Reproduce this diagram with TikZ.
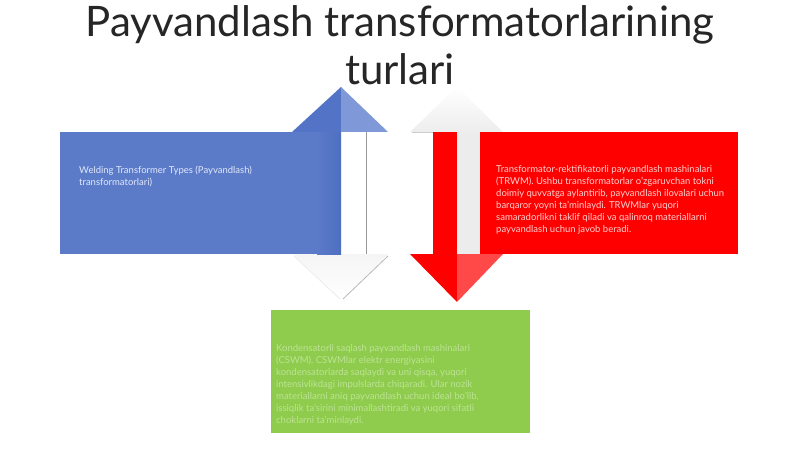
\documentclass[tikz,border=0pt]{standalone}
\usepackage{fontspec}
\setmainfont{Lato}
\begin{document}
\begin{tikzpicture}[x=1pt,y=-1pt,
  boxshape/.style={draw=none,inner sep=0pt,anchor=north west},
  bodytext/.style={inner sep=0pt,anchor=north west,align=left,font=\fontsize{9.5}{12}\selectfont},
  titletext/.style={inner sep=0pt,anchor=north,align=center,text=black!85,font=\fontsize{42}{48}\selectfont}]
\definecolor{bluebox}{RGB}{91,123,201}
\definecolor{bluedark}{RGB}{78,110,192}
\definecolor{bluehead}{RGB}{82,115,198}
\definecolor{bluelight}{RGB}{126,152,216}
\definecolor{redbox}{RGB}{255,0,0}
\definecolor{redlight}{RGB}{255,72,72}
\definecolor{greenbox}{RGB}{143,204,78}
\definecolor{greentext}{RGB}{188,227,148}
\definecolor{bluetext}{RGB}{225,232,250}
\definecolor{redtext}{RGB}{255,208,208}
\definecolor{paleshaft}{RGB}{236,236,236}
\useasboundingbox (0,0) rectangle (800,449);
\fill[white] (0,0) rectangle (800,449);

% title
\node[titletext] (title) at (400,5.5) {Payvandlash transformatorlarining\\turlari};

% faint arrowheads (shadows)
\shade[top color=white,bottom color=black!7] (410,132) -- (457,87) -- (503,132) -- cycle;
\shade[top color=black!4,bottom color=white] (293,254) -- (342,300) -- (388,254) -- cycle;
\draw[black!28,line width=0.8pt] (388,256) -- (343,299);
\draw[black!8,line width=0.8pt] (294,256) -- (340,299);
\draw[black!20,line width=0.6pt] (412,132) -- (433,132);

% blue part
\node[boxshape,fill=bluebox,minimum width=257pt,minimum height=122pt] (bluebox) at (60,132) {};
\shade[left color=bluebox,right color=bluedark] (317,132) rectangle (341,254);
\fill[bluehead] (292,132) -- (341,87) -- (341,132) -- cycle;
\fill[bluelight] (341,87) -- (388,132) -- (341,132) -- cycle;
\draw[black!40,line width=0.8pt] (366,132) -- (366,254);

% red part
\fill[redbox] (433,132) rectangle (457,254);
\fill[paleshaft] (457,132) rectangle (480,254);
\node[boxshape,fill=redbox,minimum width=258pt,minimum height=122pt] (redbox) at (480,132) {};
\fill[redbox] (410,254) -- (457,302) -- (457,254) -- cycle;
\fill[redlight] (457,254) -- (503,254) -- (457,302) -- cycle;

% green box
\node[boxshape,fill=greenbox,minimum width=259pt,minimum height=123pt] (greenbox) at (271,310) {};

% texts
\node[bodytext,text=bluetext] (bluetxt) at (79,165.5) {Welding Transformer Types (Payvandlash)\\transformatorlari)};
\node[bodytext,text=redtext] (redtxt) at (496,165.5) {Transformator-rektifikatorli payvandlash mashinalari\\(TRWM). Ushbu transformatorlar o'zgaruvchan tokni\\doimiy quvvatga aylantirib, payvandlash ilovalari uchun\\barqaror yoyni ta'minlaydi. TRWMlar yuqori\\samaradorlikni taklif qiladi va qalinroq materiallarni\\payvandlash uchun javob beradi.};
\node[bodytext,text=greentext] (greentxt) at (276,344.5) {Kondensatorli saqlash payvandlash mashinalari\\(CSWM). CSWMlar elektr energiyasini\\kondensatorlarda saqlaydi va uni qisqa, yuqori\\intensivlikdagi impulslarda chiqaradi. Ular nozik\\materiallarni aniq payvandlash uchun ideal bo'lib,\\issiqlik ta'sirini minimallashtiradi va yuqori sifatli\\choklarni ta'minlaydi.};
\end{tikzpicture}
\end{document}
